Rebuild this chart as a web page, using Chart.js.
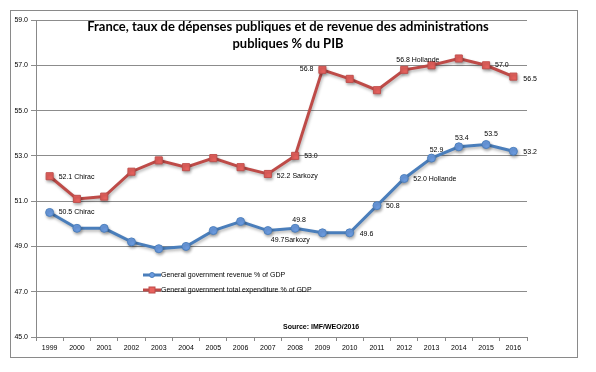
<!DOCTYPE html>
<html><head><meta charset="utf-8">
<script src="https://cdn.jsdelivr.net/npm/chart.js@4.4.1/dist/chart.umd.min.js"></script>
<style>html,body{margin:0;padding:0;background:#fff}#wrap{width:596px;height:372px}</style>
</head><body><div id="wrap"><canvas id="c" width="596" height="372"></canvas></div>
<script>
const years = ['1999','2000','2001','2002','2003','2004','2005','2006','2007','2008','2009','2010','2011','2012','2013','2014','2015','2016'];
const revenue = [50.5,49.8,49.8,49.2,48.9,49.0,49.7,50.1,49.7,49.8,49.6,49.6,50.8,52.0,52.9,53.4,53.5,53.2];
const expenditure = [52.1,51.1,51.2,52.3,52.8,52.5,52.9,52.5,52.2,53.0,56.8,56.4,55.9,56.8,57.0,57.3,57.0,56.5];
const revenueLabels = ['50.5 Chirac',null,null,null,null,null,null,null,'49.7Sarkozy','49.8',null,'49.6','50.8','52.0 Hollande','52.9','53.4','53.5','53.2'];
const expenditureLabels = ['52.1 Chirac',null,null,null,null,null,null,null,'52.2 Sarkozy','53.0','56.8',null,null,'56.8 Hollande',null,null,'57.0','56.5'];
const seriesNames = ['General government revenue % of GDP','General government total expenditure % of GDP'];
const titleLines = ['France, taux de dépenses publiques et de revenue des administrations','publiques % du PIB'];
const sourceText = 'Source: IMF/WEO/2016';
const yMin = 45, yMax = 59, yStep = 2;

const BLUE = '#4a7ebb', BLUE_PT = '#6b9be0', RED = '#be4b48', RED_PT = '#e8625e';
const SMALL = '7px "Liberation Sans", Arial, sans-serif';

// label placement (dx, dy, align) per point index
const revPlace = {0:[9,0,'left'],8:[3,9,'left'],9:[4,-8,'center'],11:[10,1,'left'],12:[9,0,'left'],13:[9,1,'left'],14:[5,-8,'center'],15:[3,-9,'center'],16:[5,-10,'center'],17:[10,1,'left']};
const expPlace = {0:[9,1,'left'],8:[9,2,'left'],9:[9,0,'left'],10:[-9,-1,'right'],13:[-8,-10,'left'],15:[5,-4,'left'],17:[10,2,'left']};

const framePlugin = {
  id:'frame',
  beforeDraw(chart){
    const ctx = chart.ctx;
    ctx.save();
    ctx.fillStyle = '#fff';
    ctx.fillRect(0,0,chart.width,chart.height);
    ctx.strokeStyle = '#8a8a8a';
    ctx.lineWidth = 1;
    ctx.strokeRect(10.5,10.5,567,347);
    ctx.restore();
  }
};
const shadowPlugin = {
  id:'shadow',
  beforeDatasetsDraw(chart){
    const ctx = chart.ctx;
    ctx.save();
    ctx.shadowColor = 'rgba(0,0,0,0.28)';
    ctx.shadowBlur = 3;
    ctx.shadowOffsetX = 1;
    ctx.shadowOffsetY = 2;
  },
  afterDatasetsDraw(chart){ chart.ctx.restore(); }
};
const annotPlugin = {
  id:'annot',
  afterDraw(chart){
    const ctx = chart.ctx;
    ctx.save();
    // data labels
    ctx.font = SMALL;
    ctx.fillStyle = '#000';
    ctx.textBaseline = 'middle';
    const sets = [[0,revenueLabels,revPlace],[1,expenditureLabels,expPlace]];
    sets.forEach(([di,labels,place])=>{
      const meta = chart.getDatasetMeta(di);
      labels.forEach((t,i)=>{
        if(!t) return;
        const p = meta.data[i];
        const pl = place[i] || [9,0,'left'];
        ctx.textAlign = pl[2];
        ctx.fillText(t, p.x+pl[0], p.y+pl[1]);
      });
    });
    // title
    let size = 14;
    ctx.font = 'bold '+size+'px Lato, "Open Sans", sans-serif';
    const w = ctx.measureText(titleLines[0]).width;
    size = size*402/w;
    ctx.font = 'bold '+size.toFixed(2)+'px Lato, "Open Sans", sans-serif';
    ctx.textAlign = 'center';
    ctx.fillText(titleLines[0], 288, 27);
    ctx.fillText(titleLines[1], 288, 44);
    // legend
    const lx = 143, ly = [275, 290];
    const cols = [[BLUE,BLUE_PT,'circle'],[RED,RED_PT,'rect']];
    ly.forEach((y,i)=>{
      ctx.strokeStyle = cols[i][0];
      ctx.lineWidth = 3;
      ctx.beginPath(); ctx.moveTo(lx,y); ctx.lineTo(lx+18,y); ctx.stroke();
      ctx.fillStyle = cols[i][1];
      ctx.strokeStyle = cols[i][0];
      ctx.lineWidth = 1;
      if(cols[i][2]==='circle'){
        ctx.beginPath(); ctx.arc(lx+9,y,2.5,0,Math.PI*2); ctx.fill(); ctx.stroke();
      } else {
        ctx.fillRect(lx+6,y-3,6,6); ctx.strokeRect(lx+6,y-3,6,6);
      }
      ctx.fillStyle = '#000';
      ctx.font = SMALL;
      ctx.textAlign = 'left';
      ctx.fillText(seriesNames[i], lx+18, y);
    });
    // source
    ctx.font = 'bold '+SMALL;
    ctx.textAlign = 'left';
    ctx.fillText(sourceText, 283, 327);
    ctx.restore();
  }
};

new Chart(document.getElementById('c'), {
  type:'line',
  data:{
    labels: years,
    datasets:[
      {label:seriesNames[0], data:revenue, borderColor:BLUE, borderWidth:3, backgroundColor:BLUE_PT,
       pointStyle:'circle', pointRadius:4, pointBorderColor:'#4f81bd', pointBorderWidth:1, pointBackgroundColor:BLUE_PT, tension:0},
      {label:seriesNames[1], data:expenditure, borderColor:RED, borderWidth:3, backgroundColor:RED_PT,
       pointStyle:'rect', pointRadius:5, pointBorderColor:'#c0504d', pointBorderWidth:1, pointBackgroundColor:RED_PT, tension:0}
    ]
  },
  options:{
    responsive:false, animation:false, devicePixelRatio:1,
    layout:{padding:{left:10, right:69, top:20, bottom:15}},
    plugins:{legend:{display:false}, title:{display:false}, tooltip:{enabled:false}},
    scales:{
      x:{
        offset:true,
        grid:{offset:true, drawOnChartArea:false, drawTicks:true, tickLength:4, color:'#888'},
        border:{color:'#888'},
        ticks:{font:{family:'"Liberation Sans", Arial, sans-serif', size:7}, color:'#000', padding:3, maxRotation:0, autoSkip:false},
        afterFit(s){ s.height = 20; }
      },
      y:{
        min:yMin, max:yMax,
        grid:{color:'#8c8c8c', tickLength:5},
        border:{color:'#888'},
        ticks:{stepSize:yStep, font:{family:'"Liberation Sans", Arial, sans-serif', size:7}, color:'#000', padding:3,
               callback:(v)=>v.toFixed(1)},
        afterFit(s){ s.width = 26; }
      }
    }
  },
  plugins:[framePlugin, shadowPlugin, annotPlugin]
});
</script>
</body></html>
